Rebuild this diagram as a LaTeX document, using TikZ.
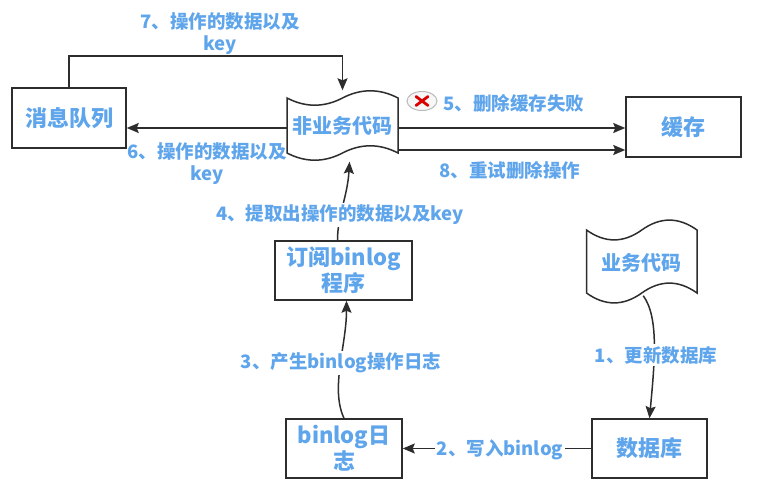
\documentclass[tikz,border=0pt]{standalone}
\usepackage{fontspec}
\setmainfont{Noto Sans CJK SC}
\usetikzlibrary{arrows.meta,shapes.geometric}
\definecolor{txtblue}{RGB}{95,165,235}
\definecolor{ln}{RGB}{45,45,45}
\tikzset{
  box/.style={draw=ln, line width=1.5pt, fill=white, inner sep=0pt, align=center,
    text=txtblue, font=\fontsize{22}{26}\selectfont\bfseries},
  tapetext/.style={inner sep=0pt, align=center, text=txtblue,
    font=\fontsize{20}{24}\selectfont\bfseries},
  tapeline/.style={draw=ln, line width=1.5pt, fill=white},
  elbl/.style={inner sep=2pt, align=center, text=txtblue,
    font=\fontsize{18.5}{22}\selectfont\bfseries},
  arr/.style={draw=ln, line width=1.5pt, -{Stealth[length=12pt,width=10pt,inset=2pt]}},
}
% tape outline: x0, y0, width, height, wave band
\newcommand{\tapeshape}[5]{%
  \path[tapeline] (#1,#2+0.5*#5)
    .. controls ({#1+#3/6},#2+1.1*#5) and ({#1+#3/3},#2+1.1*#5) .. ({#1+#3/2},#2+0.5*#5)
    .. controls ({#1+2*#3/3},#2-0.1*#5) and ({#1+5*#3/6},#2-0.1*#5) .. ({#1+#3},#2+0.5*#5)
    -- ({#1+#3},#2+#4-0.5*#5)
    .. controls ({#1+5*#3/6},#2+#4-1.1*#5) and ({#1+2*#3/3},#2+#4-1.1*#5) .. ({#1+#3/2},#2+#4-0.5*#5)
    .. controls ({#1+#3/3},#2+#4+0.1*#5) and ({#1+#3/6},#2+#4+0.1*#5) .. (#1,#2+#4-0.5*#5) -- cycle;}
\begin{document}
\begin{tikzpicture}[x=1pt,y=-1pt]
\fill[white] (0,0) rectangle (775,497);
\useasboundingbox (0,0) rectangle (775,497);

% boxes
\node[box, minimum width=114pt, minimum height=60pt] (mq) at (69,118) {消息队列};
\node[box, minimum width=115pt, minimum height=60pt] (cache) at (683.5,127) {缓存};
\node[box, minimum width=137pt, minimum height=59pt] (sub) at (343.5,270.5) {订阅binlog\\程序};
\node[box, minimum width=116pt, minimum height=59pt] (bl) at (344,448.5) {binlog日\\志};
\node[box, minimum width=115pt, minimum height=59pt] (db) at (649.5,448.5) {数据库};

% tapes
\tapeshape{287}{90}{111}{71}{16}
\node[tapetext, minimum width=111pt, minimum height=71pt] (fb) at (342.5,126) {非业务代码};
\tapeshape{586.5}{219}{110.5}{85}{22}
\node[tapetext, minimum width=110.5pt, minimum height=85pt] (biz) at (641.75,263) {业务代码};

% helper coordinates
\coordinate (y6) at (0,128);
\coordinate (y8) at (0,150);

% connectors
\draw[arr] (mq.north) -- (mq.north |- 0,56) -- (fb.north |- 0,56) -- (fb.north);
\draw[arr] (fb.west |- y6) -- (mq.east |- y6);
\draw[arr] (fb.east |- y6) -- (cache.west |- y6);
\draw[arr] (fb.east |- y8) -- (cache.west |- y8);
\draw[arr] ([xshift=-6pt]sub.north) .. controls +(0,-25) and +(-2,35) .. ([xshift=7pt]fb.south);
\draw[arr] (bl.north) .. controls +(-14,-30) and +(0,45) .. ([xshift=3pt]sub.south);
\draw[arr] (db.west) -- (bl.east);
\draw[arr] ([shift={(1.5pt,10pt)}]biz.south) .. controls +(16,22) and +(5,-55) .. (db.north);

% labels
\node[elbl] (l7) at (220,34) {7、操作的数据以及\\key};
\node[elbl] (l6) at (207,164) {6、操作的数据以及\\key};
\node[elbl] (l5) at (514,103) {5、删除缓存失败};
\node[elbl] (l8) at (510,170) {8、重试删除操作};
\node[elbl, fill=white] (l4) at (340,215) {4、提取出操作的数据以及key};
\node[elbl, fill=white] (l3) at (341,363) {3、产生binlog操作日志};
\node[elbl, fill=white] (l2) at (500,450) {2、写入binlog};
\node[elbl, fill=white] (l1) at (656,355) {1、更新数据库};

% failure icon
\node[ellipse, draw=gray!55, fill=gray!6, line width=1pt, minimum width=30pt, minimum height=19pt, inner sep=0pt] (xicon) at (422,101) {};
\draw[red!85!black, line width=2.8pt, line cap=round] ([shift={(-6,-4.5)}]xicon.center) -- ([shift={(6,4.5)}]xicon.center);
\draw[red!85!black, line width=2.8pt, line cap=round] ([shift={(-6,4.5)}]xicon.center) -- ([shift={(6,-4.5)}]xicon.center);
\end{tikzpicture}
\end{document}
